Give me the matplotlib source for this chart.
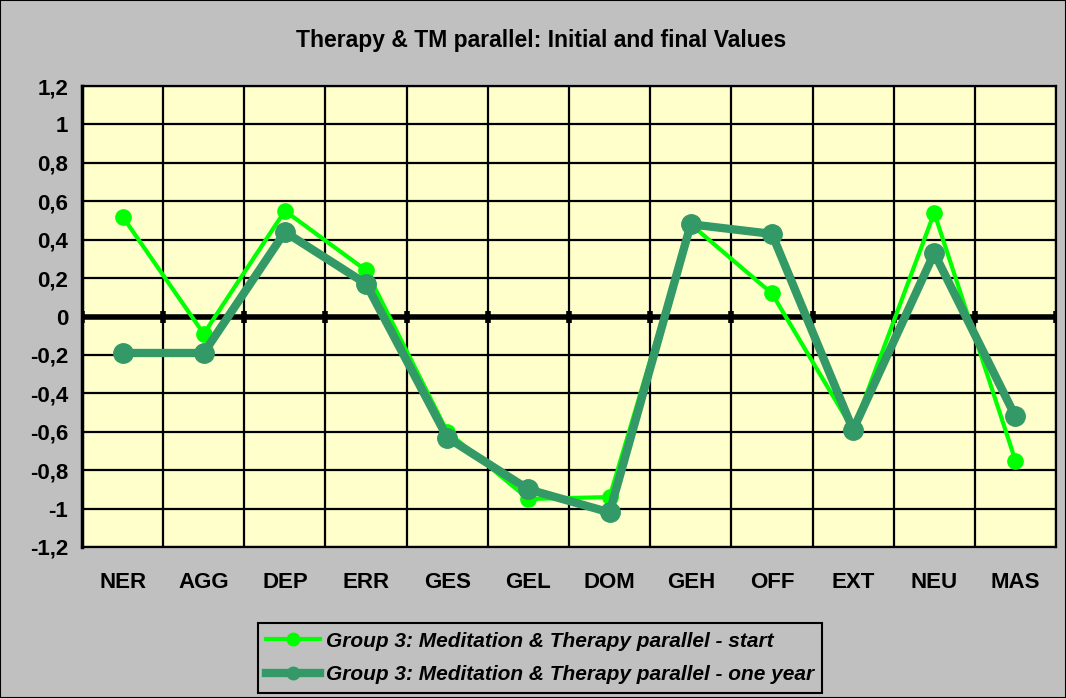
import numpy as np
import matplotlib.pyplot as plt
from matplotlib.ticker import FuncFormatter

categories = ['NER', 'AGG', 'DEP', 'ERR', 'GES', 'GEL', 'DOM', 'GEH', 'OFF', 'EXT', 'NEU', 'MAS']
start = [0.52, -0.09, 0.55, 0.24, -0.60, -0.95, -0.94, 0.48, 0.12, -0.59, 0.54, -0.75]
one_year = [-0.19, -0.19, 0.44, 0.17, -0.63, -0.90, -1.02, 0.48, 0.43, -0.59, 0.33, -0.52]
label_start = 'Group 3: Meditation & Therapy parallel - start'
label_year = 'Group 3: Meditation & Therapy parallel - one year'

plt.rcParams['font.family'] = ['Liberation Sans', 'DejaVu Sans']

fig = plt.figure(figsize=(10.66, 6.98), dpi=100, facecolor='#C0C0C0')
ax = fig.add_axes([82 / 1066, 1 - 547 / 698, (1056 - 82) / 1066, (547 - 86) / 698])
ax.set_facecolor('#FFFFCC')

x = np.arange(len(categories))
ax.plot(x, start, color='#00FF00', lw=3, marker='o', ms=11, label=label_start, zorder=3)
ax.plot(x, one_year, color='#339966', lw=6, marker='o', ms=14, label=label_year, zorder=4)

ax.set_xlim(-0.5, len(categories) - 0.5)
ax.set_ylim(-1.2, 1.2)
ax.set_yticks(np.arange(-1.2, 1.21, 0.2))


def fmt(v, p):
    v = round(v, 1)
    if v == 0:
        return '0'
    return ('%g' % v).replace('.', ',')


ax.yaxis.set_major_formatter(FuncFormatter(fmt))
ax.set_xticks(x)
ax.set_xticklabels(categories)
ax.tick_params(axis='x', length=0, pad=18, labelsize=16)
ax.tick_params(axis='y', length=0, pad=10, labelsize=16)
for lab in ax.get_xticklabels() + ax.get_yticklabels():
    lab.set_fontweight('bold')

# grid lines
for b in np.arange(-0.5, len(categories), 1):
    ax.axvline(b, color='black', lw=1.6, zorder=1)
for v in np.arange(-1.2, 1.21, 0.2):
    ax.axhline(v, color='black', lw=1.6, zorder=1)
ax.axhline(0, color='black', lw=4, zorder=2)
ax.plot(np.arange(-0.5, len(categories), 1), np.zeros(len(categories) + 1), ls='none',
        marker='|', ms=9, mew=4, color='black', zorder=2)
for s in ax.spines.values():
    s.set_color('black')
    s.set_linewidth(1.6)
ax.spines['left'].set_linewidth(2.5)

fig.text(541 / 1066, 1 - 40 / 698, 'Therapy & TM parallel: Initial and final Values',
         ha='center', va='center', fontsize=16.5, fontweight='bold')

leg = fig.legend(loc='center', bbox_to_anchor=(540 / 1066, 1 - 658 / 698),
                 prop={'weight': 'bold', 'style': 'italic', 'size': 15},
                 facecolor='#C0C0C0', edgecolor='black', fancybox=False, framealpha=1,
                 handlelength=2.6, handletextpad=0.25, borderpad=0.4, labelspacing=0.7,
                 borderaxespad=0)
leg.get_frame().set_linewidth(1.5)
for h in leg.legend_handles:
    h.set_markersize(9)

fig.patches.append(plt.Rectangle((0, 0), 1, 1, transform=fig.transFigure, fill=False,
                                 edgecolor='black', lw=1.5))
fig.savefig('out.png', dpi=100, facecolor=fig.get_facecolor())
